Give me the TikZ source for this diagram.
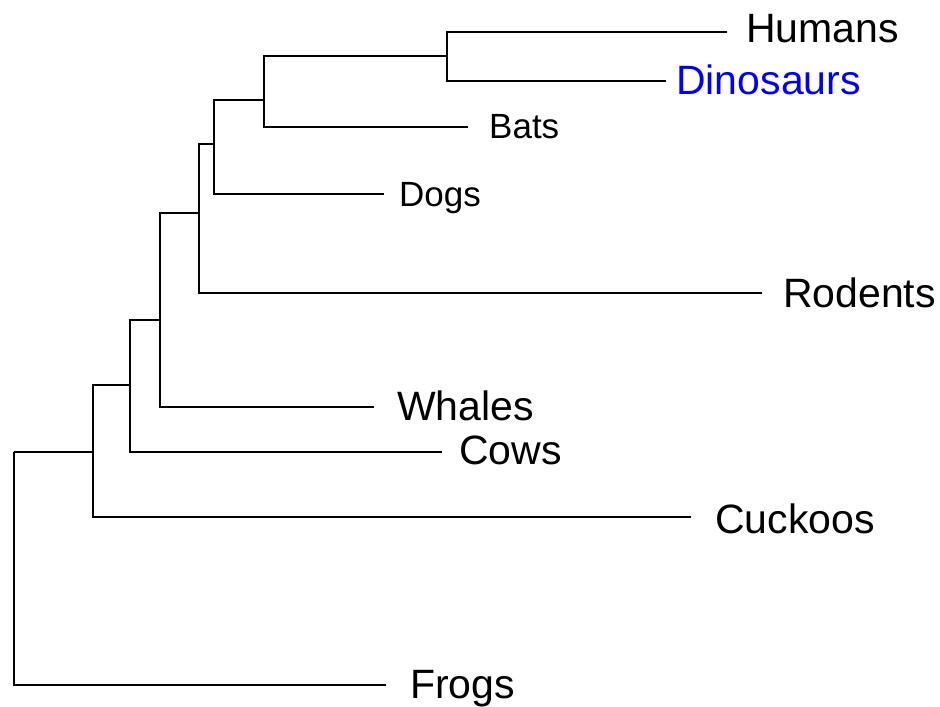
\documentclass[tikz,border=0pt]{standalone}
\usepackage{fontspec}
\setmainfont{Liberation Sans}
\definecolor{dinoblue}{RGB}{0,0,255}
\begin{document}
\begin{tikzpicture}[x=1pt,y=-1pt,
  branch/.style={line width=1.7pt, line join=miter},
  biglabel/.style={anchor=base west, inner sep=0pt, font=\fontsize{41}{48}\selectfont},
  smalllabel/.style={anchor=base west, inner sep=0pt, font=\fontsize{35}{42}\selectfont}]
\useasboundingbox (0,0) rectangle (940,707);
% internal nodes
\coordinate (r) at (14,452);
\coordinate (a) at (93,452);
\coordinate (b) at (130,385);
\coordinate (c) at (160,320);
\coordinate (d) at (199,213);
\coordinate (e) at (214,144);
\coordinate (f) at (264,100);
\coordinate (g) at (447,56);
% leaf ends
\coordinate (humE) at (727,32);
\coordinate (dinE) at (666,81);
\coordinate (batE) at (468,127);
\coordinate (dogE) at (384,194);
\coordinate (rodE) at (762,293);
\coordinate (whaE) at (374,407);
\coordinate (cowE) at (442,452);
\coordinate (cucE) at (691,517);
\coordinate (froE) at (386,685);
% labels
\node[biglabel] (hum) at (746,42) {Humans};
\node[biglabel, text=dinoblue] (din) at (676,94) {Dinosaurs};
\node[smalllabel] (bat) at (489,138) {Bats};
\node[smalllabel] (dog) at (399,206) {Dogs};
\node[biglabel] (rod) at (783,307) {Rodents};
\node[biglabel] (wha) at (397,420) {Whales};
\node[biglabel] (cow) at (459,464) {Cows};
\node[biglabel] (cuc) at (715,533) {Cuckoos};
\node[biglabel] (fro) at (410,698) {Frogs};
% branches
\draw[branch] (r) |- (a);
\draw[branch] (r) |- (froE);
\draw[branch] (a) |- (b);
\draw[branch] (a) |- (cucE);
\draw[branch] (b) |- (c);
\draw[branch] (b) |- (cowE);
\draw[branch] (c) |- (d);
\draw[branch] (c) |- (whaE);
\draw[branch] (d) |- (e);
\draw[branch] (d) |- (rodE);
\draw[branch] (e) |- (f);
\draw[branch] (e) |- (dogE);
\draw[branch] (f) |- (g);
\draw[branch] (f) |- (batE);
\draw[branch] (g) |- (humE);
\draw[branch] (g) |- (dinE);
\end{tikzpicture}
\end{document}
